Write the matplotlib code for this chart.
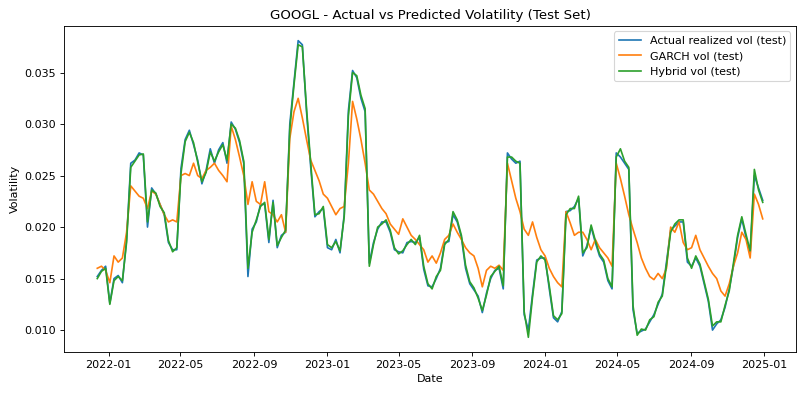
import pandas as pd
import matplotlib
matplotlib.use("Agg")
import matplotlib.pyplot as plt
import matplotlib.dates as mdates

# weekly readings, Mondays from 2021-12-13 to 2024-12-30
dates = pd.date_range("2021-12-13", "2024-12-30", freq="7D")

actual_vol = [
    0.0152, 0.0158, 0.0162, 0.0126, 0.0150, 0.0153, 0.0146, 0.0188, 0.0262, 0.0265,
    0.0272, 0.0270, 0.0200, 0.0238, 0.0232, 0.0222, 0.0212, 0.0185, 0.0178, 0.0178,
    0.0257, 0.0285, 0.0294, 0.0280, 0.0265, 0.0242, 0.0255, 0.0276, 0.0262, 0.0275,
    0.0282, 0.0262, 0.0302, 0.0295, 0.0282, 0.0262, 0.0152, 0.0198, 0.0205, 0.0222,
    0.0222, 0.0185, 0.0226, 0.0180, 0.0192, 0.0195, 0.0300, 0.0340, 0.0381, 0.0377,
    0.0312, 0.0258, 0.0210, 0.0215, 0.0218, 0.0180, 0.0178, 0.0188, 0.0175, 0.0212,
    0.0313, 0.0352, 0.0345, 0.0325, 0.0312, 0.0165, 0.0185, 0.0198, 0.0205, 0.0205,
    0.0195, 0.0178, 0.0176, 0.0175, 0.0185, 0.0186, 0.0185, 0.0190, 0.0159, 0.0143,
    0.0142, 0.0150, 0.0160, 0.0185, 0.0186, 0.0212, 0.0205, 0.0190, 0.0160, 0.0145,
    0.0139, 0.0133, 0.0117, 0.0136, 0.0150, 0.0158, 0.0160, 0.0140, 0.0272, 0.0266,
    0.0262, 0.0264, 0.0115, 0.0100, 0.0135, 0.0168, 0.0170, 0.0170, 0.0140, 0.0112,
    0.0108, 0.0118, 0.0215, 0.0216, 0.0220, 0.0228, 0.0172, 0.0182, 0.0200, 0.0185,
    0.0172, 0.0166, 0.0148, 0.0140, 0.0272, 0.0268, 0.0262, 0.0256, 0.0120, 0.0097,
    0.0099, 0.0101, 0.0108, 0.0115, 0.0125, 0.0135, 0.0166, 0.0197, 0.0201, 0.0205,
    0.0205, 0.0166, 0.0162, 0.0170, 0.0162, 0.0145, 0.0128, 0.0100, 0.0106, 0.0110,
    0.0122, 0.0140, 0.0162, 0.0190, 0.0208, 0.0190, 0.0175, 0.0250, 0.0238, 0.0226,
]

garch_vol = [
    0.0160, 0.0162, 0.0158, 0.0146, 0.0172, 0.0166, 0.0170, 0.0195, 0.0240, 0.0235,
    0.0230, 0.0228, 0.0218, 0.0235, 0.0232, 0.0222, 0.0212, 0.0205, 0.0207, 0.0205,
    0.0250, 0.0252, 0.0250, 0.0262, 0.0250, 0.0247, 0.0255, 0.0258, 0.0262, 0.0255,
    0.0250, 0.0244, 0.0298, 0.0285, 0.0268, 0.0250, 0.0222, 0.0244, 0.0225, 0.0222,
    0.0244, 0.0215, 0.0212, 0.0205, 0.0212, 0.0195, 0.0286, 0.0312, 0.0325, 0.0306,
    0.0285, 0.0265, 0.0255, 0.0245, 0.0232, 0.0228, 0.0220, 0.0212, 0.0218, 0.0220,
    0.0262, 0.0322, 0.0305, 0.0285, 0.0262, 0.0236, 0.0232, 0.0225, 0.0218, 0.0213,
    0.0203, 0.0198, 0.0193, 0.0208, 0.0200, 0.0192, 0.0188, 0.0183, 0.0178, 0.0166,
    0.0172, 0.0165, 0.0175, 0.0188, 0.0192, 0.0203, 0.0195, 0.0188, 0.0180, 0.0175,
    0.0172, 0.0160, 0.0142, 0.0158, 0.0162, 0.0160, 0.0163, 0.0158, 0.0262, 0.0245,
    0.0228, 0.0215, 0.0198, 0.0192, 0.0205, 0.0190, 0.0178, 0.0172, 0.0160, 0.0152,
    0.0146, 0.0142, 0.0215, 0.0204, 0.0192, 0.0195, 0.0195, 0.0188, 0.0178, 0.0188,
    0.0180, 0.0175, 0.0170, 0.0162, 0.0262, 0.0247, 0.0230, 0.0212, 0.0198, 0.0185,
    0.0170, 0.0160, 0.0152, 0.0149, 0.0155, 0.0150, 0.0160, 0.0200, 0.0195, 0.0205,
    0.0185, 0.0178, 0.0180, 0.0192, 0.0178, 0.0170, 0.0162, 0.0155, 0.0150, 0.0138,
    0.0133, 0.0145, 0.0162, 0.0175, 0.0195, 0.0188, 0.0170, 0.0232, 0.0222, 0.0208,
]

hybrid_vol = [
    0.0150, 0.0157, 0.0160, 0.0125, 0.0148, 0.0152, 0.0148, 0.0185, 0.0258, 0.0264,
    0.0270, 0.0271, 0.0205, 0.0236, 0.0233, 0.0220, 0.0214, 0.0187, 0.0176, 0.0180,
    0.0252, 0.0283, 0.0292, 0.0282, 0.0263, 0.0244, 0.0253, 0.0273, 0.0264, 0.0273,
    0.0280, 0.0265, 0.0300, 0.0296, 0.0284, 0.0264, 0.0160, 0.0195, 0.0207, 0.0220,
    0.0224, 0.0188, 0.0224, 0.0182, 0.0190, 0.0197, 0.0295, 0.0338, 0.0377, 0.0375,
    0.0315, 0.0262, 0.0212, 0.0213, 0.0220, 0.0183, 0.0180, 0.0186, 0.0177, 0.0210,
    0.0308, 0.0350, 0.0347, 0.0328, 0.0315, 0.0162, 0.0183, 0.0200, 0.0203, 0.0207,
    0.0197, 0.0180, 0.0174, 0.0177, 0.0183, 0.0188, 0.0183, 0.0192, 0.0162, 0.0145,
    0.0140, 0.0152, 0.0158, 0.0183, 0.0188, 0.0215, 0.0207, 0.0192, 0.0163, 0.0147,
    0.0141, 0.0131, 0.0119, 0.0134, 0.0152, 0.0157, 0.0162, 0.0143, 0.0268, 0.0268,
    0.0264, 0.0262, 0.0118, 0.0093, 0.0132, 0.0166, 0.0172, 0.0168, 0.0143, 0.0114,
    0.0110, 0.0116, 0.0212, 0.0218, 0.0218, 0.0230, 0.0175, 0.0180, 0.0202, 0.0187,
    0.0174, 0.0168, 0.0150, 0.0142, 0.0268, 0.0276, 0.0264, 0.0258, 0.0124, 0.0095,
    0.0101, 0.0100, 0.0110, 0.0113, 0.0127, 0.0133, 0.0163, 0.0195, 0.0203, 0.0207,
    0.0207, 0.0170, 0.0160, 0.0172, 0.0164, 0.0147, 0.0130, 0.0104, 0.0108, 0.0108,
    0.0124, 0.0138, 0.0165, 0.0192, 0.0210, 0.0193, 0.0177, 0.0256, 0.0236, 0.0224,
]

fig, ax = plt.subplots(figsize=(10, 4.9625))
ax.plot(dates, actual_vol, label="Actual realized vol (test)")
ax.plot(dates, garch_vol, label="GARCH vol (test)")
ax.plot(dates, hybrid_vol, label="Hybrid vol (test)")

ax.xaxis.set_major_locator(mdates.MonthLocator(bymonth=[1, 5, 9]))
ax.xaxis.set_major_formatter(mdates.DateFormatter("%Y-%m"))

ax.set_title("GOOGL - Actual vs Predicted Volatility (Test Set)")
ax.set_xlabel("Date")
ax.set_ylabel("Volatility")
ax.legend(loc="upper right")

fig.subplots_adjust(left=0.08, right=0.995, top=0.935, bottom=0.113)
plt.savefig("out.png", dpi=80)
